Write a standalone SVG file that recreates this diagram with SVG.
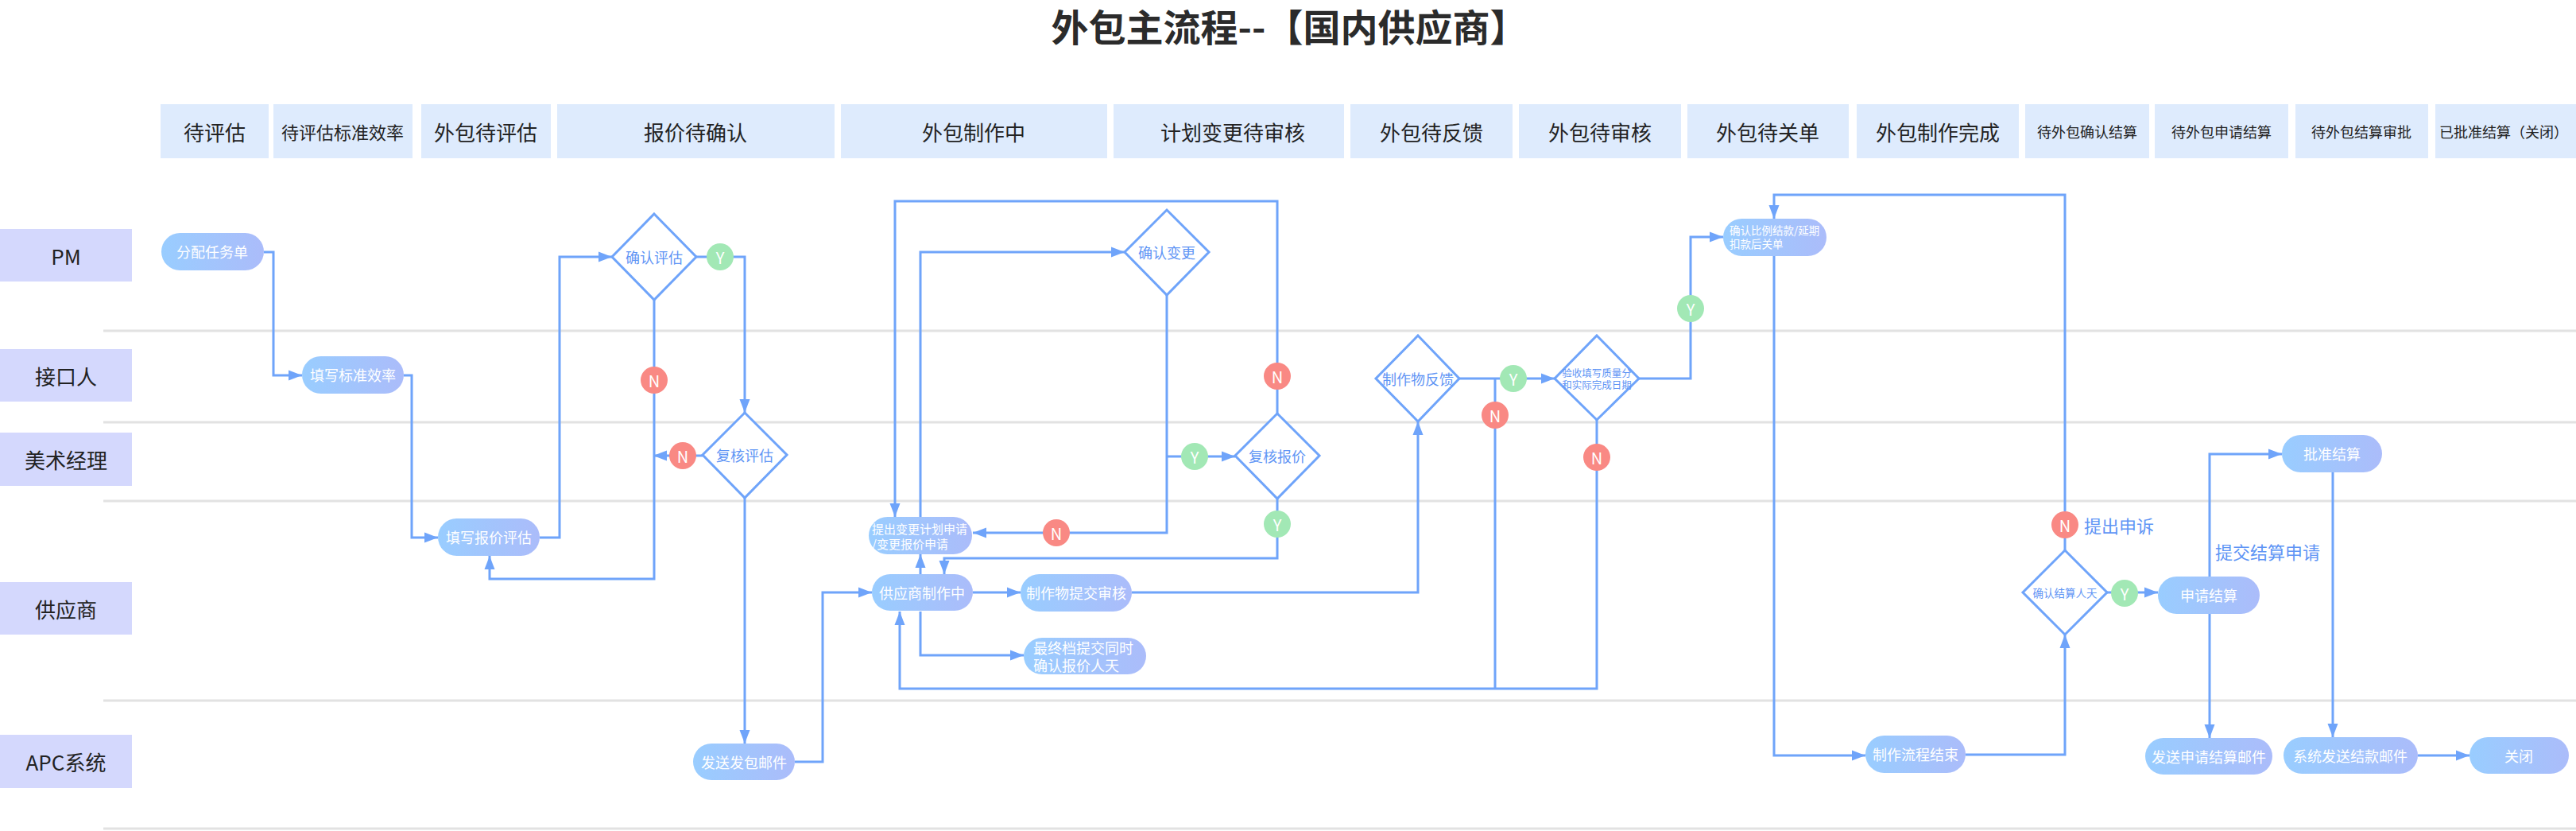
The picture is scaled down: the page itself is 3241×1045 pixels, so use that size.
<svg xmlns="http://www.w3.org/2000/svg" width="3241" height="1045" viewBox="0 0 3241 1045">
<defs>
<linearGradient id="ng" x1="0" y1="0" x2="1" y2="0">
<stop offset="0" stop-color="#99cdff"/>
<stop offset="1" stop-color="#abbcfa"/>
</linearGradient>
<marker id="ar" markerUnits="userSpaceOnUse" markerWidth="18" markerHeight="14" refX="17" refY="7" orient="auto">
<path d="M0,0.5 L17,7 L0,13.5 z" fill="#6fa4fa"/>
</marker>
</defs>
<style>
text{font-family:"Noto Sans CJK SC","Noto Sans",sans-serif}
.hd{fill:#deebfd}
.hdt{font-size:26px;fill:#222;text-anchor:middle;dominant-baseline:central}
.hds{font-size:18px}
.lb{fill:#d4d8fd}
.lbt{font-size:26px;fill:#222;text-anchor:middle;dominant-baseline:central}
.ln{stroke:#e2e2e2;stroke-width:3}
.nd{fill:url(#ng)}
.ndt{font-size:18px;fill:#fff;text-anchor:middle;dominant-baseline:central}
.ndl{fill:#fff;dominant-baseline:central}
.dm{fill:#fff;stroke:#6fa4fa;stroke-width:3}
.dmt{font-size:18px;fill:#5f95f5;text-anchor:middle;dominant-baseline:central}
.c{fill:none;stroke:#6fa4fa;stroke-width:3}
.a{marker-end:url(#ar)}
.y{fill:#a2e8b5}
.n{fill:#f98984}
.yn{font-size:20px;fill:#fff;text-anchor:middle;dominant-baseline:central}
.lab{font-size:22px;fill:#5f95f5;dominant-baseline:central}
</style>
<rect width="3241" height="1045" fill="#fff"/>
<text x="1622" y="52" font-size="47" font-weight="bold" fill="#2b2b2b" text-anchor="middle">外包主流程--【国内供应商】</text>

<g id="lanes">
<line class="ln" x1="130" y1="416" x2="3241" y2="416"/>
<line class="ln" x1="130" y1="531" x2="3241" y2="531"/>
<line class="ln" x1="130" y1="630" x2="3241" y2="630"/>
<line class="ln" x1="130" y1="881" x2="3241" y2="881"/>
<line class="ln" x1="130" y1="1042" x2="3241" y2="1042"/>
<g id="lane-pm"><rect class="lb" x="0" y="288" width="166" height="66"/><text class="lbt" x="83" y="321">PM</text></g>
<g id="lane-jk"><rect class="lb" x="0" y="439" width="166" height="66"/><text class="lbt" x="83" y="472">接口人</text></g>
<g id="lane-ms"><rect class="lb" x="0" y="544" width="166" height="67"/><text class="lbt" x="83" y="577">美术经理</text></g>
<g id="lane-gys"><rect class="lb" x="0" y="732" width="166" height="66"/><text class="lbt" x="83" y="765">供应商</text></g>
<g id="lane-apc"><rect class="lb" x="0" y="924" width="166" height="67"/><text class="lbt" x="83" y="957">APC系统</text></g>
</g>

<g id="headers">
<g id="h1"><rect class="hd" x="202" y="131" width="136" height="68"/><text class="hdt" x="270" y="165">待评估</text></g>
<g id="h2"><rect class="hd" x="344" y="131" width="175" height="68"/><text class="hdt" x="431" y="165" style="font-size:22px">待评估标准效率</text></g>
<g id="h3"><rect class="hd" x="530" y="131" width="163" height="68"/><text class="hdt" x="611" y="165">外包待评估</text></g>
<g id="h4"><rect class="hd" x="701" y="131" width="349" height="68"/><text class="hdt" x="875" y="165">报价待确认</text></g>
<g id="h5"><rect class="hd" x="1058" y="131" width="335" height="68"/><text class="hdt" x="1225" y="165">外包制作中</text></g>
<g id="h6"><rect class="hd" x="1401" y="131" width="290" height="68"/><text class="hdt" x="1551" y="165">计划变更待审核</text></g>
<g id="h7"><rect class="hd" x="1699" y="131" width="204" height="68"/><text class="hdt" x="1801" y="165">外包待反馈</text></g>
<g id="h8"><rect class="hd" x="1911" y="131" width="204" height="68"/><text class="hdt" x="2013" y="165">外包待审核</text></g>
<g id="h9"><rect class="hd" x="2123" y="131" width="203" height="68"/><text class="hdt" x="2224" y="165">外包待关单</text></g>
<g id="h10"><rect class="hd" x="2336" y="131" width="204" height="68"/><text class="hdt" x="2438" y="165">外包制作完成</text></g>
<g id="h11"><rect class="hd" x="2548" y="131" width="156" height="68"/><text class="hdt hds" x="2626" y="165">待外包确认结算</text></g>
<g id="h12"><rect class="hd" x="2711" y="131" width="168" height="68"/><text class="hdt hds" x="2795" y="165">待外包申请结算</text></g>
<g id="h13"><rect class="hd" x="2888" y="131" width="167" height="68"/><text class="hdt hds" x="2971" y="165">待外包结算审批</text></g>
<g id="h14"><rect class="hd" x="3064" y="131" width="177" height="68"/><text class="hdt hds" x="3150" y="165">已批准结算（关闭）</text></g>
</g>

<g id="connectors">
<path class="c a" d="M332,317 H344 V472 H380"/>
<path class="c a" d="M508,472 H518 V676 H551"/>
<path class="c a" d="M679,676 H704 V323 H770"/>
<path class="c a" d="M876,323 H937 V519"/>
<path class="c a" d="M823,377 V728 H616 V699"/>
<path class="c a" d="M884,573 H822"/>
<path class="c a" d="M937,626 V935"/>
<path class="c a" d="M1000,958 H1035 V745 H1097"/>
<path class="c a" d="M1158,722 V697"/>
<path class="c a" d="M1158,650 V317 H1415"/>
<path class="c a" d="M1468,371 V670 H1224"/>
<path class="c a" d="M1468,574 H1554"/>
<path class="c a" d="M1607,520 V253 H1126 V650"/>
<path class="c a" d="M1607,627 V702 H1188 V722"/>
<path class="c a" d="M1224,745 H1284"/>
<path class="c a" d="M1424,745 H1784 V530"/>
<path class="c a" d="M1836,476 H1956"/>
<path class="c" d="M1881,476 V866"/>
<path class="c a" d="M2009,528 V866 H1132 V769"/>
<path class="c a" d="M1158,769 V824 H1288"/>
<path class="c a" d="M2062,476 H2127 V298 H2168"/>
<path class="c a" d="M2598,692 V245 H2232 V275"/>
<path class="c a" d="M2232,322 V950 H2347"/>
<path class="c a" d="M2473,949 H2598 V798"/>
<path class="c a" d="M2651,745 H2715"/>
<path class="c a" d="M2780,725 V571 H2871"/>
<path class="c a" d="M2780,772 V928"/>
<path class="c a" d="M2935,594 V927"/>
<path class="c a" d="M3042,950 H3107"/>
<text class="lab" x="2622" y="660">提出申诉</text>
<text class="lab" x="2787" y="693">提交结算申请</text>
<g id="yn">
<circle class="y" cx="906" cy="323" r="17"/><text class="yn" x="906" y="323">Y</text>
<circle class="n" cx="823" cy="478" r="17"/><text class="yn" x="823" y="478">N</text>
<circle class="n" cx="859" cy="573" r="17"/><text class="yn" x="859" y="573">N</text>
<circle class="n" cx="1329" cy="670" r="17"/><text class="yn" x="1329" y="670">N</text>
<circle class="y" cx="1503" cy="574" r="17"/><text class="yn" x="1503" y="574">Y</text>
<circle class="n" cx="1607" cy="473" r="17"/><text class="yn" x="1607" y="473">N</text>
<circle class="y" cx="1607" cy="659" r="17"/><text class="yn" x="1607" y="659">Y</text>
<circle class="y" cx="1904" cy="476" r="17"/><text class="yn" x="1904" y="476">Y</text>
<circle class="n" cx="1881" cy="522" r="17"/><text class="yn" x="1881" y="522">N</text>
<circle class="n" cx="2009" cy="575" r="17"/><text class="yn" x="2009" y="575">N</text>
<circle class="y" cx="2127" cy="388" r="17"/><text class="yn" x="2127" y="388">Y</text>
<circle class="n" cx="2598" cy="660" r="17"/><text class="yn" x="2598" y="660">N</text>
<circle class="y" cx="2673" cy="746" r="17"/><text class="yn" x="2673" y="746">Y</text>
</g>
</g>

<g id="n-fprw"><rect class="nd" x="203" y="293" width="129" height="47" rx="23.5"/><text class="ndt" x="267" y="316">分配任务单</text></g>
<g id="n-txbz"><rect class="nd" x="380" y="448" width="128" height="47" rx="23.5"/><text class="ndt" x="444" y="471">填写标准效率</text></g>
<g id="n-txbj"><rect class="nd" x="551" y="652" width="128" height="47" rx="23.5"/><text class="ndt" x="615" y="675">填写报价评估</text></g>
<g id="n-fsfb"><rect class="nd" x="872" y="935" width="128" height="46" rx="23"/><text class="ndt" x="936" y="958">发送发包邮件</text></g>
<g id="n-tcbg"><rect class="nd" x="1093" y="650" width="130" height="47" rx="23.5"/><text class="ndl" x="1097" y="664" font-size="15">提出变更计划申请</text><text class="ndl" x="1097" y="683" font-size="15">/变更报价申请</text></g>
<g id="n-gyszz"><rect class="nd" x="1097" y="722" width="127" height="46" rx="23"/><text class="ndt" x="1160" y="745">供应商制作中</text></g>
<g id="n-zztj"><rect class="nd" x="1284" y="722" width="140" height="47" rx="23.5"/><text class="ndt" x="1354" y="745">制作物提交审核</text></g>
<g id="n-zzd"><rect class="nd" x="1288" y="802" width="154" height="46" rx="23"/><text class="ndl" x="1300" y="814" font-size="18">最终档提交同时</text><text class="ndl" x="1300" y="836" font-size="18">确认报价人天</text></g>
<g id="n-qrbl"><rect class="nd" x="2168" y="275" width="130" height="47" rx="23.5"/><text class="ndl" x="2176" y="289" font-size="13.5">确认比例结款/延期</text><text class="ndl" x="2176" y="306" font-size="13.5">扣款后关单</text></g>
<g id="n-zzjs"><rect class="nd" x="2347" y="925" width="126" height="47" rx="23.5"/><text class="ndt" x="2410" y="948">制作流程结束</text></g>
<g id="n-sqjs"><rect class="nd" x="2715" y="725" width="128" height="47" rx="23.5"/><text class="ndt" x="2779" y="748">申请结算</text></g>
<g id="n-pzjs"><rect class="nd" x="2871" y="547" width="126" height="47" rx="23.5"/><text class="ndt" x="2934" y="570">批准结算</text></g>
<g id="n-fssq"><rect class="nd" x="2699" y="928" width="160" height="46" rx="23"/><text class="ndt" x="2779" y="951">发送申请结算邮件</text></g>
<g id="n-xtfs"><rect class="nd" x="2873" y="927" width="169" height="46" rx="23"/><text class="ndt" x="2957" y="950">系统发送结款邮件</text></g>
<g id="n-gb"><rect class="nd" x="3107" y="927" width="125" height="46" rx="23"/><text class="ndt" x="3169" y="950">关闭</text></g>

<g id="d-qrpg"><path class="dm" d="M823,269 L876,323 L823,377 L770,323 Z"/><text class="dmt" x="823" y="323">确认评估</text></g>
<g id="d-fhpg"><path class="dm" d="M937,519 L990,572 L937,626 L884,572 Z"/><text class="dmt" x="937" y="572">复核评估</text></g>
<g id="d-qrbg"><path class="dm" d="M1468,264 L1521,317 L1468,371 L1415,317 Z"/><text class="dmt" x="1468" y="317">确认变更</text></g>
<g id="d-fhbj"><path class="dm" d="M1607,520 L1660,573 L1607,627 L1554,573 Z"/><text class="dmt" x="1607" y="573">复核报价</text></g>
<g id="d-zzfk"><path class="dm" d="M1784,422 L1836,476 L1784,530 L1731,476 Z"/><text class="dmt" x="1784" y="476">制作物反馈</text></g>
<g id="d-ys"><path class="dm" d="M2009,422 L2062,476 L2009,528 L1956,476 Z"/><text class="dmt" x="2009" y="468" style="font-size:12.5px">验收填写质量分</text><text class="dmt" x="2009" y="483" style="font-size:12.5px">和实际完成日期</text></g>
<g id="d-qrjs"><path class="dm" d="M2598,692 L2651,745 L2598,798 L2545,745 Z"/><text class="dmt" x="2598" y="745" style="font-size:13.5px">确认结算人天</text></g>
</svg>
